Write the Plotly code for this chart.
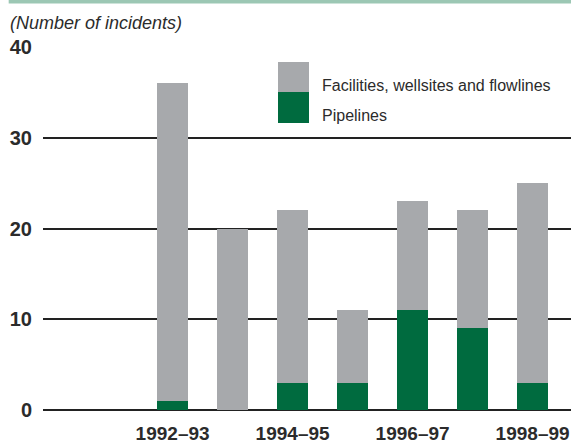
import plotly.graph_objects as go

YEARS = ["1992–93", "1993–94", "1994–95", "1995–96", "1996–97", "1997–98", "1998–99"]
PIPELINES = [1, 0, 3, 3, 11, 9, 3]
FACILITIES = [35, 20, 19, 8, 12, 13, 22]
TICK_YEARS = ["1992–93", "1994–95", "1996–97", "1998–99"]
Y_TICKS = [0, 10, 20, 30, 40]

GREEN = "#006b3f"
GREY = "#a7a9ac"
TEXT = "#2b2b2b"
FONT = "Liberation Sans, Arial, sans-serif"

fig = go.Figure()
fig.add_trace(go.Bar(x=YEARS, y=PIPELINES, name="Pipelines",
                     marker=dict(color=GREEN, line=dict(width=0))))
fig.add_trace(go.Bar(x=YEARS, y=FACILITIES, name="Facilities, wellsites and flowlines",
                     marker=dict(color=GREY, line=dict(width=0))))

# top rule
fig.add_shape(type="rect", xref="paper", yref="paper",
              x0=-0.065, x1=1.0, y0=1.12, y1=1.135,
              fillcolor="#9cc7b4", line=dict(width=0), layer="above")

# hand-made legend: two stacked swatches
fig.add_shape(type="rect", xref="paper", yref="paper",
              x0=0.4451, x1=0.5038, y0=0.876, y1=0.9587,
              fillcolor=GREY, line=dict(width=0))
fig.add_shape(type="rect", xref="paper", yref="paper",
              x0=0.4451, x1=0.5038, y0=0.7906, y1=0.876,
              fillcolor=GREEN, line=dict(width=0))
fig.add_annotation(text="Facilities, wellsites and flowlines", xref="paper", yref="paper",
                   x=0.5246, y=0.8926, xanchor="left", yanchor="middle", showarrow=False,
                   font=dict(size=16, color=TEXT, family=FONT))
fig.add_annotation(text="Pipelines", xref="paper", yref="paper",
                   x=0.5246, y=0.8113, xanchor="left", yanchor="middle", showarrow=False,
                   font=dict(size=16, color=TEXT, family=FONT))

fig.add_annotation(text="<i>(Number of incidents)</i>", xref="paper", yref="paper",
                   x=-0.0663, y=1.066, xanchor="left", yanchor="middle", showarrow=False,
                   font=dict(size=18, color=TEXT, family=FONT))

fig.update_layout(
    width=571, height=443,
    margin=dict(l=43, r=0, t=47, b=33),
    barmode="stack",
    bargap=0.48,
    showlegend=False,
    plot_bgcolor="white",
    paper_bgcolor="white",
    font=dict(family=FONT, color=TEXT),
)
fig.update_xaxes(
    type="category", range=[-2.16, 6.64],
    tickmode="array", tickvals=TICK_YEARS, ticktext=TICK_YEARS,
    tickfont=dict(size=19, family=FONT, color=TEXT, weight="bold"),
    showgrid=False, showline=False, ticks="", ticklabelstandoff=10,
)
fig.update_yaxes(
    range=[0, 40], tickmode="array", tickvals=Y_TICKS,
    showgrid=True, gridcolor="#222222", gridwidth=1.5,
    zeroline=True, zerolinecolor="#222222", zerolinewidth=1.5,
    showline=False, ticks="", ticklabelstandoff=10,
    tickfont=dict(size=20, family=FONT, color=TEXT, weight="bold"),
)

fig.write_html("out.html", config={"displayModeBar": False},
               post_script="document.body.style.margin='0';")
